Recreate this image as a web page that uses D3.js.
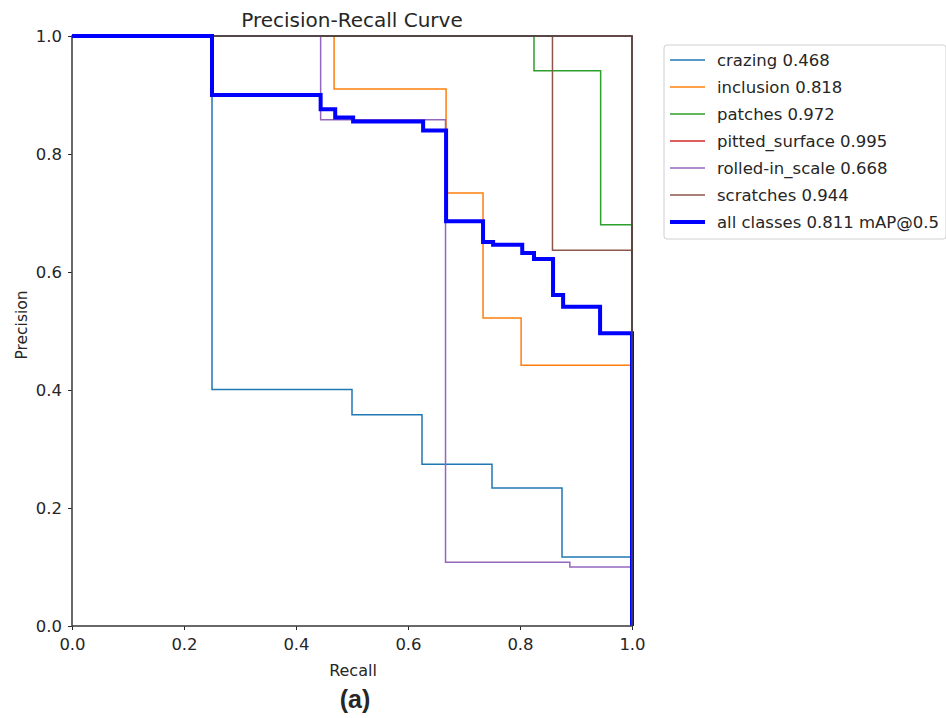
<!DOCTYPE html>
<html>
<head>
<meta charset="utf-8">
<script src="https://cdn.jsdelivr.net/npm/d3@7"></script>
<style>
    body { margin: 0; background: #fff; }
    svg text { font-family: "DejaVu Sans", sans-serif; fill: #262626; }
</style>
</head>
<body>
<svg id="chart" width="946" height="718"></svg>
<script>
// step points: [recall, precision] -> precision holds from this recall onward
var crazing = [[0, 1], [0.25, 0.401], [0.5, 0.358], [0.625, 0.274], [0.75, 0.234], [0.875, 0.117], [1, 0]];
var inclusion = [[0, 1], [0.468, 0.91], [0.668, 0.734], [0.734, 0.522], [0.802, 0.442], [1, 0]];
var patches = [[0, 1], [0.825, 0.941], [0.944, 0.68], [1, 0]];
var pittedSurface = [[0, 1], [1, 0]];
var rolledInScale = [[0, 1], [0.444, 0.858], [0.667, 0.108], [0.889, 0.1], [1, 0]];
var scratches = [[0, 1], [0.858, 0.637], [1, 0]];
var allClasses = [[0, 1], [0.25, 0.9], [0.444, 0.876], [0.47, 0.862], [0.502, 0.855], [0.627, 0.84],
    [0.668, 0.686], [0.734, 0.651], [0.752, 0.646], [0.804, 0.632], [0.825, 0.622],
    [0.859, 0.561], [0.877, 0.541], [0.943, 0.496], [1, 0]];

var classNames = ['crazing', 'inclusion', 'patches', 'pitted_surface', 'rolled-in_scale', 'scratches'];
var classAP = [0.468, 0.818, 0.972, 0.995, 0.668, 0.944];
var classColors = ['#1f77b4', '#ff7f0e', '#2ca02c', '#d62728', '#9467bd', '#8c564b'];
var classCurves = [crazing, inclusion, patches, pittedSurface, rolledInScale, scratches];
var mAP = 0.811;
var ticks = [0, 0.2, 0.4, 0.6, 0.8, 1.0];

(function () {
    var svg = d3.select('#chart'),
        left = 72, right = 632, top = 36, bottom = 626;

    var x = d3.scaleLinear().domain([0, 1]).range([left, right]),
        y = d3.scaleLinear().domain([0, 1]).range([bottom, top]);

    var line = d3.line()
        .x(function (d) { return x(d[0]); })
        .y(function (d) { return y(d[1]); })
        .curve(d3.curveStepAfter);

    // curves
    var $curves = svg.append('g').classed('curves', true);
    classCurves.forEach(function (pts, i) {
        $curves.append('path')
            .attr('d', line(pts))
            .attr('fill', 'none')
            .attr('stroke', classColors[i])
            .attr('stroke-width', 1.5);
    });
    $curves.append('path')
        .attr('d', line(allClasses))
        .attr('fill', 'none')
        .attr('stroke', '#0000ff')
        .attr('stroke-width', 4);

    // axes
    var $xAxis = svg.append('g')
        .attr('transform', 'translate(0,' + bottom + ')')
        .call(d3.axisBottom(x).tickValues(ticks).tickFormat(d3.format('.1f')).tickSize(4).tickPadding(8));
    var $yAxis = svg.append('g')
        .attr('transform', 'translate(' + left + ',0)')
        .call(d3.axisLeft(y).tickValues(ticks).tickFormat(d3.format('.1f')).tickSize(4).tickPadding(6));
    [$xAxis, $yAxis].forEach(function ($a) {
        $a.select('.domain').remove();
        $a.selectAll('line').attr('stroke', '#262626');
        $a.selectAll('text').style('font-size', '16.5px').style('font-family', '"DejaVu Sans", sans-serif').attr('fill', '#262626');
    });

    // frame (drawn over the curves, like matplotlib spines)
    svg.append('rect')
        .attr('x', left).attr('y', top)
        .attr('width', right - left).attr('height', bottom - top)
        .attr('fill', 'none').attr('stroke', '#444').attr('stroke-width', 1.6);
    // the thick mean curve still sits on top of the spine
    svg.append('path')
        .attr('d', line(allClasses.slice(0, 2)))
        .attr('fill', 'none')
        .attr('stroke', '#0000ff')
        .attr('stroke-width', 4);

    // titles
    svg.append('text').attr('x', 352).attr('y', 27)
        .attr('text-anchor', 'middle').style('font-size', '20px').text('Precision-Recall Curve');
    svg.append('text').attr('x', 353).attr('y', 676)
        .attr('text-anchor', 'middle').style('font-size', '16px').text('Recall');
    svg.append('text').attr('transform', 'translate(27,325) rotate(-90)')
        .attr('text-anchor', 'middle').style('font-size', '15.5px').text('Precision');
    svg.append('text').attr('x', 355).attr('y', 708)
        .attr('text-anchor', 'middle')
        .style('font-family', '"Liberation Sans", Arial, sans-serif')
        .style('font-weight', 'bold').style('font-size', '25px').attr('fill', '#000').text('(a)');

    // legend
    var $legend = svg.append('g').attr('transform', 'translate(664,45)');
    $legend.append('rect')
        .attr('width', 282).attr('height', 194).attr('rx', 3)
        .attr('fill', '#fff').attr('stroke', '#d0d0d0');
    var labels = classNames.map(function (n, i) { return n + ' ' + classAP[i].toFixed(3); })
        .concat(['all classes ' + mAP.toFixed(3) + ' mAP@0.5']);
    var colors = classColors.concat(['#0000ff']);
    labels.forEach(function (label, i) {
        var cy = 15 + i * 27;
        $legend.append('line')
            .attr('x1', 6).attr('x2', 41).attr('y1', cy).attr('y2', cy)
            .attr('stroke', colors[i]).attr('stroke-width', i === 6 ? 4 : 1.5);
        $legend.append('text').attr('x', 53).attr('y', cy + 6)
            .style('font-size', '16.5px').text(label);
    });
})();
</script>
</body>
</html>
